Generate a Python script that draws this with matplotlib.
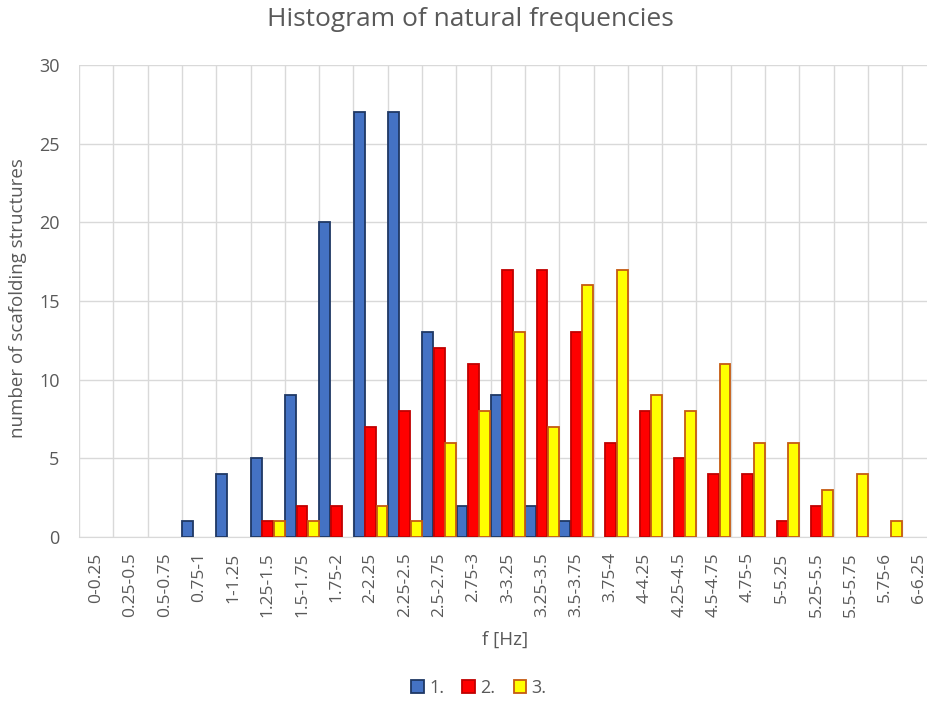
import matplotlib
matplotlib.use("Agg")
import matplotlib.pyplot as plt
import numpy as np

categories = ["0-0.25", "0.25-0.5", "0.5-0.75", "0.75-1", "1-1.25", "1.25-1.5", "1.5-1.75",
              "1.75-2", "2-2.25", "2.25-2.5", "2.5-2.75", "2.75-3", "3-3.25", "3.25-3.5",
              "3.5-3.75", "3.75-4", "4-4.25", "4.25-4.5", "4.5-4.75", "4.75-5", "5-5.25",
              "5.25-5.5", "5.5-5.75", "5.75-6", "6-6.25"]
series1 = [0, 0, 0, 1, 4, 5, 9, 20, 27, 27, 13, 2, 9, 2, 1, 0, 0, 0, 0, 0, 0, 0, 0, 0, 0]
series2 = [0, 0, 0, 0, 0, 1, 2, 2, 7, 8, 12, 11, 17, 17, 13, 6, 8, 5, 4, 4, 1, 2, 0, 0, 0]
series3 = [0, 0, 0, 0, 0, 1, 1, 0, 2, 1, 6, 8, 13, 7, 16, 17, 9, 8, 11, 6, 6, 3, 4, 1, 0]
names = ["1.", "2.", "3."]

plt.rcParams['font.family'] = ['Open Sans', 'DejaVu Sans']
text_color = "#595959"

W, H = 928, 711
ax_left, ax_right, ax_top, ax_bottom = 79, 936.5, 65, 537
fig = plt.figure(figsize=(W/100, H/100), dpi=100)
ax = fig.add_axes([ax_left/W, 1-ax_bottom/H, (ax_right-ax_left)/W, (ax_bottom-ax_top)/H])
ax_w = ax_right - ax_left
ax_h = ax_bottom - ax_top

x = np.arange(len(categories))
w = 1/3
styles = [("#4472C4", "#1F3864"), ("#FF0000", "#C00000"), ("#FFFF00", "#C55A11")]
handles = []
for i, (vals, (fc, ec)) in enumerate(zip([series1, series2, series3], styles)):
    v = np.array(vals, dtype=float)
    mask = v > 0
    b = ax.bar(x[mask] + (i-1)*w, v[mask], width=w*0.95, color=fc, edgecolor=ec,
               linewidth=1.3, label=names[i], zorder=3)
    handles.append(b)

ax.set_xlim(-0.5, len(categories)-0.5)
ax.set_ylim(0, 30)
ax.set_yticks(range(0, 31, 5))
ax.set_xticks(x)
ax.set_xticklabels(categories, rotation=90, fontsize=12.5, color=text_color)
ax.tick_params(axis='y', labelsize=13, labelcolor=text_color, length=0, pad=14)
ax.tick_params(axis='x', length=0, pad=11)
ax.set_xticks(np.arange(-0.5, len(categories)), minor=True)
ax.tick_params(axis='x', which='minor', length=0)
ax.grid(True, which='minor', axis='x', color="#D9D9D9", linewidth=1, zorder=0)
ax.grid(True, which='major', axis='y', color="#D9D9D9", linewidth=1, zorder=0)
ax.grid(False, which='major', axis='x')
for s in ['top', 'right', 'left']:
    ax.spines[s].set_visible(False)
ax.spines['bottom'].set_color("#D9D9D9")

fig.text(470/W, 1-20/H, "Histogram of natural frequencies", fontsize=19, color=text_color,
         ha='center', va='center')
ax.set_xlabel("f [Hz]", fontsize=13.5, color=text_color)
ax.xaxis.set_label_coords((505-ax_left)/ax_w, -(640-ax_bottom)/ax_h)
ax.xaxis.label.set_va('center')
ax.set_ylabel("number of scafolding structures", fontsize=13.5, color=text_color)
ax.yaxis.set_label_coords(-(ax_left-18)/ax_w, (ax_bottom-298)/ax_h)
ax.yaxis.label.set_va('center')

fig.legend(handles=handles, labels=names, loc='center', bbox_to_anchor=(479/W, 1-688/H),
           ncol=3, frameon=False, fontsize=13, labelcolor=text_color,
           handlelength=0.7, handleheight=0.7, handletextpad=0.3, columnspacing=1.0)

fig.savefig("out.png", dpi=100)
